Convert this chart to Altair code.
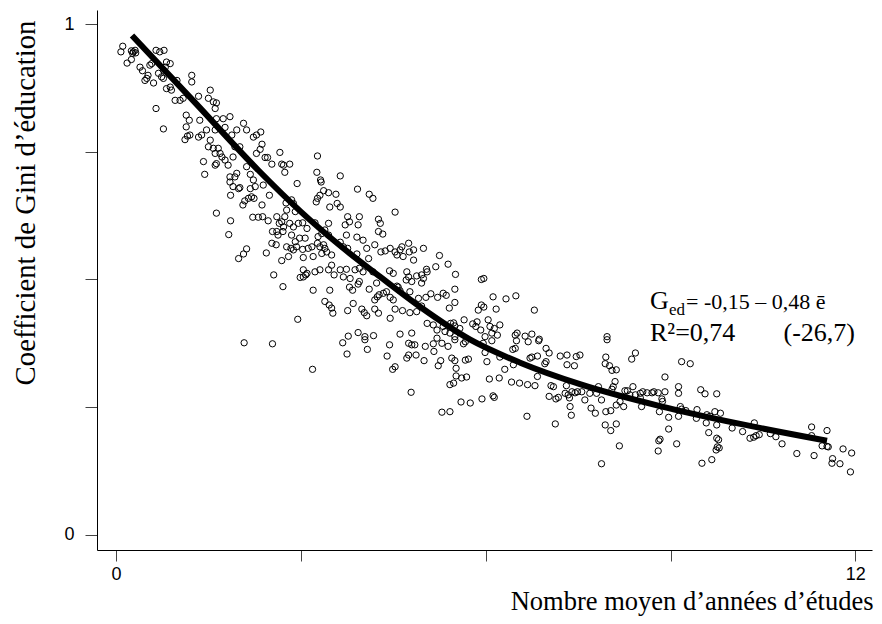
import altair as alt
import pandas as pd

# ---- scatter points (mean years of schooling, education Gini) ----
pts_top = [
    (0.11,0.957),(0.08,0.946),(0.25,0.948),(0.28,0.946),(0.31,0.949),(0.27,0.943),(0.32,0.944),
    (0.18,0.924),(0.25,0.931),(0.65,0.949),(0.71,0.946),(0.78,0.949),(0.39,0.916),(0.43,0.909),
    (0.55,0.920),(0.58,0.923),(0.47,0.890),(0.50,0.894),(0.61,0.885),(0.52,0.900),(0.82,0.926),
    (0.88,0.923),(0.80,0.916),(0.77,0.910),(0.69,0.904),(0.74,0.897),(0.77,0.894),(0.99,0.890),
    (0.82,0.874),(0.88,0.877),(0.90,0.871),(0.96,0.851),(1.04,0.851),(1.09,0.855),(1.23,0.900),
    (1.23,0.887),(0.65,0.835),(0.77,0.795),(1.34,0.859),(1.53,0.871),(1.50,0.855),(1.58,0.848),
    (1.63,0.846),(1.61,0.835),(1.14,0.822),(1.19,0.812),(1.14,0.799),(1.16,0.781),(1.12,0.774),
    (1.20,0.783),(1.36,0.812),(1.63,0.815),(1.74,0.815),(1.85,0.819),(1.47,0.793),(1.61,0.793),
    (1.77,0.798),(1.88,0.783),(1.96,0.793),(2.07,0.806),(2.12,0.793),(2.23,0.779),(2.28,0.783),
    (2.28,0.747),(1.34,0.779),(1.39,0.783),(1.53,0.773),(1.50,0.760),(1.58,0.757),(1.66,0.757),
    (1.69,0.747),(1.72,0.740),(1.77,0.734),(1.82,0.724),(1.63,0.727),(1.61,0.747),(1.42,0.731),
    (1.61,0.724),(1.44,0.706),(1.93,0.760),(2.01,0.760),(1.90,0.740),(1.96,0.708),(1.93,0.701),
    (1.85,0.701),(2.12,0.721),(2.18,0.706),
]
pts_upper = [
    (1.85,0.691),(1.90,0.682),(1.99,0.678),(2.01,0.680),(1.86,0.665),(2.18,0.678),(2.26,0.682),
    (2.23,0.695),(2.06,0.646),(2.09,0.654),(2.15,0.659),(2.20,0.662),(2.24,0.659),(1.63,0.630),
    (1.86,0.615),(2.22,0.622),(2.31,0.622),(1.83,0.588),(2.12,0.560),(2.07,0.550),(1.99,0.541),
    (2.08,0.376),
    (2.35,0.789),(2.37,0.765),(2.34,0.755),(2.42,0.739),(2.46,0.739),(2.53,0.726),(2.66,0.749),
    (2.69,0.726),(2.72,0.724),(2.82,0.726),(2.74,0.710),(3.27,0.742),(3.26,0.710),(3.64,0.703),
    (3.32,0.695),
]
pts_mid = [
    (2.39,0.685),(2.49,0.665),(2.37,0.646),(2.38,0.623),(2.47,0.615),(2.61,0.623),(2.65,0.610),
    (2.69,0.613),(2.72,0.603),(2.71,0.594),(2.61,0.594),(2.54,0.594),(2.63,0.587),(2.53,0.571),
    (2.60,0.568),(2.44,0.552),(2.69,0.537),(2.56,0.509),(2.71,0.486),(2.95,0.422),
    (2.94,0.688),(3.33,0.691),(3.37,0.674),(3.45,0.670),(3.31,0.665),(3.27,0.659),(3.25,0.652),
    (3.57,0.667),(3.59,0.649),(3.47,0.642),(3.64,0.642),(3.92,0.677),(4.11,0.667),(4.17,0.659),
    (4.53,0.632),
    (2.76,0.650),(2.85,0.656),(2.88,0.649),(2.77,0.636),(2.91,0.633),(2.74,0.623),(2.82,0.610),
    (2.88,0.603),(2.96,0.610),(3.03,0.611),(3.10,0.600),(2.85,0.587),(2.91,0.574),(2.98,0.581),
    (3.07,0.581),(2.77,0.564),(2.84,0.561),(2.88,0.558),(2.93,0.564),(3.03,0.559),(2.80,0.545),
    (3.04,0.543),(3.12,0.561),(3.18,0.564),(3.20,0.545),(3.27,0.571),(3.31,0.564),(3.37,0.568),
    (3.39,0.561),(3.34,0.551),(3.42,0.554),(3.50,0.548),(3.23,0.611),(3.45,0.610),(3.39,0.597),
    (3.34,0.590),(3.45,0.587),(3.28,0.584),
    (3.76,0.623),(3.79,0.613),(3.72,0.607),(3.95,0.623),(3.93,0.607),(3.74,0.587),(3.64,0.573),
    (3.69,0.564),(3.76,0.561),(3.91,0.583),(4.01,0.577),(4.07,0.561),(3.91,0.550),(4.10,0.541),
    (4.26,0.618),(4.29,0.610),(4.26,0.594),(4.33,0.589),(4.20,0.568),(4.30,0.554),(4.37,0.556),
    (4.45,0.561),(4.53,0.554),(4.56,0.548),(4.61,0.558),(4.64,0.564),(4.66,0.545),(4.75,0.571),
    (4.76,0.554),(4.83,0.558),(4.83,0.538),
]
pts_center = [
    (3.04,0.519),(3.10,0.512),(3.23,0.515),(3.31,0.519),(3.45,0.519),(3.50,0.528),(3.54,0.509),
    (3.64,0.519),(3.69,0.505),(3.74,0.520),(3.80,0.502),(3.88,0.519),(3.95,0.522),(4.01,0.515),
    (4.17,0.515),(4.44,0.517),(4.50,0.512),(4.72,0.515),(4.75,0.505),(4.88,0.507),(4.71,0.499),
    (4.80,0.496),
    (2.99,0.504),(3.04,0.505),(3.08,0.509),(3.20,0.479),(3.47,0.479),(3.79,0.485),(3.84,0.479),
    (3.93,0.491),(3.95,0.496),(4.11,0.481),(4.23,0.493),(4.24,0.466),(4.27,0.470),(4.20,0.460),
    (4.34,0.473),(4.39,0.476),(4.45,0.465),(4.56,0.487),(4.58,0.485),(4.61,0.478),(4.77,0.476),
    (4.91,0.463),(4.50,0.460),
    (3.39,0.457),(3.46,0.450),(3.50,0.444),(3.52,0.434),(3.76,0.439),(3.85,0.453),(3.99,0.442),
    (4.03,0.435),(4.07,0.429),(4.20,0.442),(4.26,0.434),(4.45,0.424),(4.53,0.442),(4.65,0.439),
    (4.77,0.435),(4.88,0.437),
    (3.77,0.389),(3.93,0.396),(4.04,0.388),(4.18,0.390),(4.61,0.393),(4.80,0.395),
    (2.54,0.374),(3.19,0.324),(3.68,0.376),(3.75,0.354),(4.04,0.382),(4.08,0.363),(4.44,0.372),
    (4.40,0.350),(4.49,0.324),(4.53,0.329),(4.72,0.346),(4.75,0.352),(4.75,0.375),(4.80,0.372),
    (4.85,0.372),(4.87,0.352),(4.79,0.279),
]
pts_lower_mid = [
    (4.99,0.561),(5.25,0.547),(5.39,0.530),(5.19,0.525),(5.04,0.520),(5.05,0.515),(4.96,0.509),
    (4.99,0.502),(4.96,0.493),(5.51,0.510),(5.93,0.500),(5.97,0.502),(5.50,0.481),(5.03,0.465),
    (5.11,0.472),(5.22,0.465),(5.31,0.473),(5.36,0.469),(4.96,0.448),(5.50,0.455),(5.41,0.444),
    (6.12,0.466),(6.33,0.462),(6.49,0.468),(5.93,0.450),(5.97,0.446),(5.88,0.440),(6.17,0.442),
    (6.79,0.440),(5.05,0.414),(5.15,0.411),(5.21,0.401),(5.31,0.408),(5.43,0.414),(5.48,0.415),
    (5.50,0.409),(5.58,0.404),(5.65,0.421),(5.21,0.385),(5.34,0.398),(5.42,0.395),(5.50,0.388),
    (5.79,0.413),(5.84,0.408),(5.86,0.417),(5.92,0.401),(5.99,0.388),(6.04,0.421),(6.07,0.408),
    (6.14,0.404),(6.10,0.395),(6.19,0.391),(6.23,0.411),(6.48,0.391),(6.51,0.395),(6.64,0.389),
    (6.75,0.393),(6.87,0.383),
]
pts_lower = [
    (5.02,0.369),(5.15,0.374),(5.16,0.359),(5.29,0.375),(5.39,0.369),(5.50,0.382),(5.64,0.374),
    (5.67,0.378),(5.00,0.341),(5.23,0.331),(5.27,0.341),(5.45,0.346),(5.50,0.341),(5.52,0.326),
    (5.67,0.342),(5.72,0.344),(5.99,0.357),(6.02,0.339),(6.23,0.348),(6.31,0.324),(6.45,0.333),
    (6.44,0.363),(6.48,0.365),(6.72,0.346),(6.75,0.348),(6.84,0.350),(6.98,0.365),(7.03,0.356),
    (6.98,0.339),(6.96,0.335),(7.21,0.350),(7.32,0.352),(7.32,0.333),(7.44,0.331),(7.47,0.349),
    (6.50,0.380),(6.69,0.378),(6.86,0.380),(6.10,0.380),(5.96,0.375),(5.52,0.311),(5.61,0.307),
    (5.69,0.309),(5.48,0.297),(5.42,0.294),(6.06,0.305),(6.22,0.307),(6.42,0.299),(6.55,0.297),
    (6.68,0.294),(6.80,0.292),(6.84,0.310),(7.06,0.292),(7.10,0.290),(7.31,0.292),(7.29,0.277),
    (7.34,0.274),(7.40,0.280),(7.45,0.278),(7.49,0.280),(7.03,0.271),(7.14,0.266),(7.18,0.269),
    (7.36,0.268),(7.37,0.251),(7.39,0.234),(5.60,0.260),(5.75,0.258),(5.94,0.266),(6.12,0.272),
    (6.14,0.269),(5.29,0.240),(5.42,0.241),(6.67,0.232),(7.13,0.217),
]
pts_right = [
    (7.97,0.388),(7.97,0.382),(7.95,0.348),(7.94,0.335),(8.01,0.331),(8.05,0.322),(8.12,0.323),
    (8.43,0.356),(8.37,0.344),(9.18,0.339),(9.32,0.335),(8.91,0.309),(7.53,0.352),(7.56,0.280),
    (7.61,0.264),(7.69,0.277),(7.80,0.277),(7.83,0.290),(7.88,0.264),(7.78,0.238),(7.71,0.248),
    (8.05,0.285),(8.07,0.290),(8.10,0.300),(8.12,0.254),(8.18,0.261),(8.24,0.251),(8.26,0.282),
    (8.30,0.282),(8.39,0.290),(8.34,0.274),(8.43,0.274),(8.51,0.277),(8.55,0.280),(8.51,0.268),
    (8.62,0.278),(8.70,0.278),(8.73,0.280),(8.80,0.278),(8.91,0.280),(8.86,0.266),(8.87,0.261),
    (8.53,0.251),(8.82,0.241),(7.95,0.241),(8.03,0.243),(7.94,0.215),(8.03,0.204),(8.12,0.217),
    (8.17,0.174),(7.88,0.139),(9.13,0.290),(9.13,0.277),(9.16,0.251),(9.18,0.246),(9.25,0.243),
    (9.13,0.232),(8.97,0.230),(8.97,0.207),(8.83,0.187),(8.81,0.184),(8.80,0.164),(9.10,0.178),
    (9.49,0.284),(9.56,0.276),(9.75,0.276),(9.43,0.245),(9.42,0.228),(9.59,0.235),(9.64,0.232),
    (9.72,0.241),(9.81,0.238),(9.58,0.219),(9.75,0.215),(9.62,0.200),(9.75,0.189),(9.78,0.186),
    (9.76,0.172),(9.79,0.170),(9.74,0.166),(9.67,0.147),(9.51,0.140),(10.00,0.209),
    (10.36,0.219),(10.17,0.202),(10.29,0.189),(10.35,0.191),(10.39,0.194),(10.44,0.196),
    (10.62,0.198),(10.71,0.192),(10.81,0.178),(11.05,0.159),(11.29,0.211),(11.29,0.194),
    (11.54,0.204),(11.33,0.155),(11.46,0.174),(11.54,0.173),(11.56,0.172),(11.80,0.168),
    (11.94,0.160),(11.63,0.149),(11.62,0.140),(11.75,0.139),(11.92,0.123),
]

# ---- fitted curve ----
curve_x = [0.26, 1.28, 2.31, 2.99, 3.64, 4.29, 4.94, 5.75, 6.56, 7.53, 8.83, 10.13, 11.54]
curve_y = [0.978, 0.847, 0.714, 0.634, 0.566, 0.505, 0.446, 0.382, 0.337, 0.295, 0.252, 0.217, 0.184]

x_ticks = [0, 3, 6, 9, 12]
y_ticks = [0, 0.25, 0.5, 0.75, 1]
x_title = "Nombre moyen d\u2019ann\u00e9es d\u2019\u00e9tudes"
y_title = "Coefficient de Gini d\u2019\u00e9ducation"

points = pts_top + pts_upper + pts_mid + pts_center + pts_lower_mid + pts_lower + pts_right
df = pd.DataFrame(points, columns=["x", "y"])
cdf = pd.DataFrame({"x": curve_x, "y": curve_y})

W, H = 775, 540
xs = alt.Scale(domain=[-0.308, 12.27], nice=False, zero=False)
ys = alt.Scale(domain=[-0.03, 1.028], nice=False, zero=False)

serif = "Liberation Serif"
sans = "Liberation Sans"

x_axis = alt.Axis(
    values=x_ticks,
    labelExpr="datum.value == 0 ? '0' : datum.value == 12 ? '12' : ''",
    grid=False, domainColor="black", domainWidth=1,
    tickColor="#444", tickSize=11, tickWidth=1,
    labelFont=sans, labelFontSize=18, labelColor="black", labelPadding=4,
    title=x_title, titleFont=serif, titleFontSize=26.5, titleFontWeight="normal",
    titleColor="black", titleAlign="right", titleAnchor="end",
    titleX=W + 1, titleY=59, titleBaseline="alphabetic",
)
y_axis = alt.Axis(
    values=y_ticks,
    labelExpr="datum.value == 0 ? '0' : datum.value == 1 ? '1' : ''",
    grid=False, domainColor="black", domainWidth=1,
    tickColor="#444", tickSize=12, tickWidth=1,
    labelFont=sans, labelFontSize=18, labelColor="black", labelPadding=11,
    title=y_title, titleFont=serif, titleFontSize=28.8, titleFontWeight="normal",
    titleColor="black", titleAngle=270, titleAlign="right", titleAnchor="end",
    titleX=-63, titleY=10, titleBaseline="alphabetic",
)

line = alt.Chart(cdf).mark_line(
    color="black", strokeWidth=6, interpolate="monotone"
).encode(
    x=alt.X("x:Q", scale=xs, axis=x_axis),
    y=alt.Y("y:Q", scale=ys, axis=y_axis),
)

scatter = alt.Chart(df).mark_point(
    shape="circle", filled=False, color="black", size=40, strokeWidth=1, opacity=1
).encode(
    x=alt.X("x:Q", scale=xs, axis=x_axis),
    y=alt.Y("y:Q", scale=ys, axis=y_axis),
)

def label(txt, px, py, size, align="left"):
    return alt.Chart(pd.DataFrame({"t": [txt]})).mark_text(
        font=serif, fontSize=size, color="black", align=align, baseline="alphabetic"
    ).encode(x=alt.value(px), y=alt.value(py), text="t:N")

ann = [
    label("G", 553, 299, 26),
    label("ed", 572, 305, 17),
    label("= -0,15 \u2013 0,48 \u0113", 589, 299, 22),
    label("R\u00b2=0,74", 553, 331, 26),
    label("(-26,7)", 758, 331, 26, align="right"),
]

chart = alt.layer(scatter, line, *ann).properties(
    width=W, height=H,
    autosize=alt.AutoSizeParams(type="none"),
    padding={"left": 89, "top": 2, "right": 2, "bottom": 66},
    background="white",
).configure_view(stroke=None)

chart.save("out.html", embed_options={"renderer": "svg", "actions": False})
